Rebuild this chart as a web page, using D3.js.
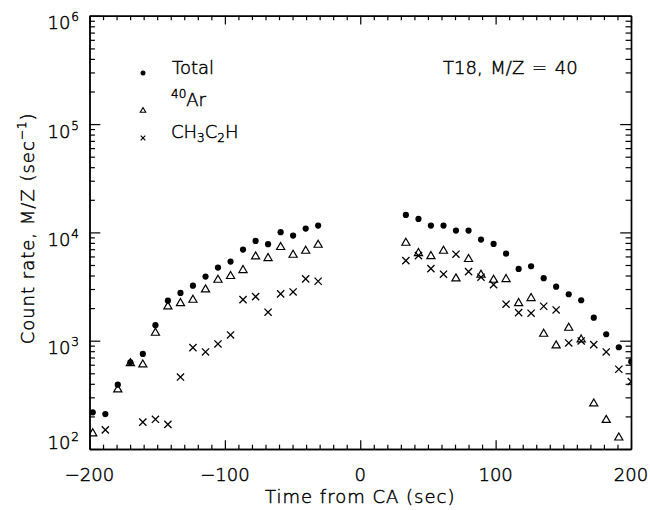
<!DOCTYPE html>
<html>
<head>
<meta charset="utf-8">
<script src="https://cdn.jsdelivr.net/npm/d3@7"></script>
<style>
  html, body { margin: 0; padding: 0; background: #fff; }
  svg { display: block; }
  text { font-family: "DejaVu Sans", "Liberation Sans", sans-serif; font-weight: 200; fill: #000;
         stroke: #000; stroke-width: 0.45px; }
</style>
</head>
<body>
<svg id="chart" width="650" height="510"></svg>
<script>
// ---- data ----
const times = [-197.6, -188.3, -179.1, -169.8, -160.6, -151.3, -142.1, -132.8, -123.6, -114.3,
               -105.1, -95.8, -86.6, -77.3, -68.1, -58.8, -49.6, -40.3, -31.1,
               33.7, 43.0, 52.2, 61.5, 70.7, 80.0, 89.2, 98.5, 107.7, 117.0,
               126.2, 135.5, 144.7, 154.0, 163.2, 172.5, 181.7, 191.0, 200.2];
const totalRate = [218, 210, 393, 632, 755, 1390, 2344, 2761, 3225, 3906,
                   4730, 5373, 6937, 8340, 7780, 10040, 9340, 10840, 11560,
                   14510, 13330, 11560, 11560, 10390, 10390, 8580, 7830, 6370, 4600,
                   4870, 3775, 3157, 2685, 2364, 1633, 1147, 870, 640];
const argonRate = [142, null, 361, 632, 614, 1205, 2108, 2265, 2431, 3026,
                   3719, 4026, 4571, 6105, 5900, 7460, 6330, 6890, 7830,
                   8170, 6560, 6150, 6890, 3823, 5780, 4140, 3719, 3775, 2265,
                   2520, 1180, 920, 1340, 1045, 268, 189, 130, null];
const propyneRate = [null, 150, null, null, 177, 188, 169, 462, 863, 787,
                     933, 1130, 2393, 2553, 1832, 2704, 2820, 3719, 3540,
                     5490, 6105, 4630, 4110, 6290, 4345, 3855, 3293, 2172, 1815,
                     1794, 2080, 1923, 953, 995, 920, 787, 545, 419];
const xTicks = [-200, -100, 0, 100, 200];
const yDecades = [2, 3, 4, 5, 6];

// ---- layout ----
const svg = d3.select("#chart");
const L = 89.5, R = 631, T = 15.8, B = 449;
const x = d3.scaleLinear().domain([-200, 200]).range([L, R]);
const y = d3.scaleLog().domain([1e2, 1e6]).range([B, T]);
const xTickLen = 8.7, yTickLen = 10.8;

// minor ticks
const xMinor = d3.range(-200, 201, 10).filter(v => v % 100 !== 0);
const yMinor = [];
yDecades.slice(0, -1).forEach(d => { for (let m = 2; m <= 9; m++) yMinor.push(m * Math.pow(10, d)); });

function styleAxis(g) {
  g.selectAll("path").attr("stroke", "#000").attr("stroke-width", 1.4);
  g.selectAll("line").attr("stroke", "#000").attr("stroke-width", 1.2);
  g.selectAll("text").remove();
}

// bottom
svg.append("g").attr("transform", `translate(0,${B})`)
  .call(d3.axisBottom(x).tickValues(xTicks).tickSizeInner(-xTickLen).tickSizeOuter(0)).call(styleAxis);
svg.append("g").attr("transform", `translate(0,${B})`)
  .call(d3.axisBottom(x).tickValues(xMinor).tickSizeInner(-xTickLen / 2).tickSizeOuter(0)).call(styleAxis);
// top
svg.append("g").attr("transform", `translate(0,${T})`)
  .call(d3.axisTop(x).tickValues(xTicks).tickSizeInner(-xTickLen).tickSizeOuter(0)).call(styleAxis);
svg.append("g").attr("transform", `translate(0,${T})`)
  .call(d3.axisTop(x).tickValues(xMinor).tickSizeInner(-xTickLen / 2).tickSizeOuter(0)).call(styleAxis);
// left
const yMajorVals = yDecades.map(d => Math.pow(10, d));
svg.append("g").attr("transform", `translate(${L},0)`)
  .call(d3.axisLeft(y).tickValues(yMajorVals).tickSizeInner(-yTickLen).tickSizeOuter(0)).call(styleAxis);
svg.append("g").attr("transform", `translate(${L},0)`)
  .call(d3.axisLeft(y).tickValues(yMinor).tickSizeInner(-yTickLen / 2).tickSizeOuter(0)).call(styleAxis);
// right
svg.append("g").attr("transform", `translate(${R},0)`)
  .call(d3.axisRight(y).tickValues(yMajorVals).tickSizeInner(-yTickLen).tickSizeOuter(0)).call(styleAxis);
svg.append("g").attr("transform", `translate(${R},0)`)
  .call(d3.axisRight(y).tickValues(yMinor).tickSizeInner(-yTickLen / 2).tickSizeOuter(0)).call(styleAxis);

// x tick labels
svg.append("g").selectAll("text").data(xTicks).join("text")
  .attr("x", d => x(d)).attr("y", 481)
  .attr("text-anchor", "middle").attr("font-size", 18)
  .text(d => d < 0 ? "\u2212" + Math.abs(d) : String(d));

// y tick labels 10^n
const yl = svg.append("g").selectAll("text").data(yDecades).join("text")
  .attr("x", 79)
  .attr("y", d => d === yDecades[0] ? y(Math.pow(10, d)) : y(Math.pow(10, d)) + 13.5)
  .attr("text-anchor", "end").attr("font-size", 18);
yl.append("tspan").text("10");
yl.append("tspan").attr("font-size", 12).attr("dy", -8).attr("dx", 1).text(d => d);

// axis titles
svg.append("text").attr("x", (L + R) / 2).attr("y", 503)
  .attr("text-anchor", "middle").attr("font-size", 18).attr("letter-spacing", 1)
  .text("Time from CA (sec)");
const yt = svg.append("text")
  .attr("transform", `translate(34,${(T + B) / 2 - 4}) rotate(-90)`)
  .attr("text-anchor", "middle").attr("font-size", 18).attr("letter-spacing", 1);
yt.append("tspan").text("Count rate, M/Z (sec");
yt.append("tspan").attr("font-size", 12).attr("dy", -8).text("\u22121");
yt.append("tspan").attr("dy", 8).text(")");

// ---- markers ----
svg.append("clipPath").attr("id", "plotClip")
  .append("rect").attr("x", L).attr("y", T).attr("width", R - L).attr("height", B - T);
const plot = svg.append("g").attr("clip-path", "url(#plotClip)");

const triPath = (s) => `M0,${-s * 0.5}L${s * 0.55},${s * 0.45}L${-s * 0.55},${s * 0.45}Z`;
const crossPath = (s) => `M${-s},${-s}L${s},${s}M${-s},${s}L${s},${-s}`;

const idx = d3.range(times.length);
plot.append("g").selectAll("circle").data(idx.filter(i => totalRate[i] != null)).join("circle")
  .attr("cx", i => x(times[i])).attr("cy", i => y(totalRate[i])).attr("r", 3.1).attr("fill", "#000");
plot.append("g").selectAll("path").data(idx.filter(i => argonRate[i] != null)).join("path")
  .attr("transform", i => `translate(${x(times[i])},${y(argonRate[i])})`)
  .attr("d", triPath(7.4)).attr("fill", "none").attr("stroke", "#000").attr("stroke-width", 1.2);
plot.append("g").selectAll("path").data(idx.filter(i => propyneRate[i] != null)).join("path")
  .attr("transform", i => `translate(${x(times[i])},${y(propyneRate[i])})`)
  .attr("d", crossPath(3.6)).attr("fill", "none").attr("stroke", "#000").attr("stroke-width", 1.3);

// ---- legend ----
const lg = svg.append("g");
lg.append("circle").attr("cx", 143).attr("cy", 73).attr("r", 2.5).attr("fill", "#000");
lg.append("path").attr("transform", "translate(143,110)").attr("d", triPath(5))
  .attr("fill", "none").attr("stroke", "#000").attr("stroke-width", 1.1);
lg.append("path").attr("transform", "translate(143,138)").attr("d", crossPath(2.3))
  .attr("fill", "none").attr("stroke", "#000").attr("stroke-width", 1.2);
lg.append("text").attr("x", 172).attr("y", 74).attr("font-size", 18).text("Total");
const arT = lg.append("text").attr("x", 171).attr("y", 106).attr("font-size", 18);
arT.append("tspan").attr("font-size", 12).attr("dy", -8).text("40");
arT.append("tspan").attr("dy", 8).text("Ar");
const chT = lg.append("text").attr("x", 171).attr("y", 138).attr("font-size", 18);
chT.append("tspan").text("CH");
chT.append("tspan").attr("font-size", 12).attr("dy", 4).text("3");
chT.append("tspan").attr("dy", -4).text("C");
chT.append("tspan").attr("font-size", 12).attr("dy", 4).text("2");
chT.append("tspan").attr("dy", -4).text("H");

svg.append("text").attr("x", 443).attr("y", 74).attr("font-size", 18)
  .attr("word-spacing", 2).text("T18, M/Z = 40");
</script>
</body>
</html>
